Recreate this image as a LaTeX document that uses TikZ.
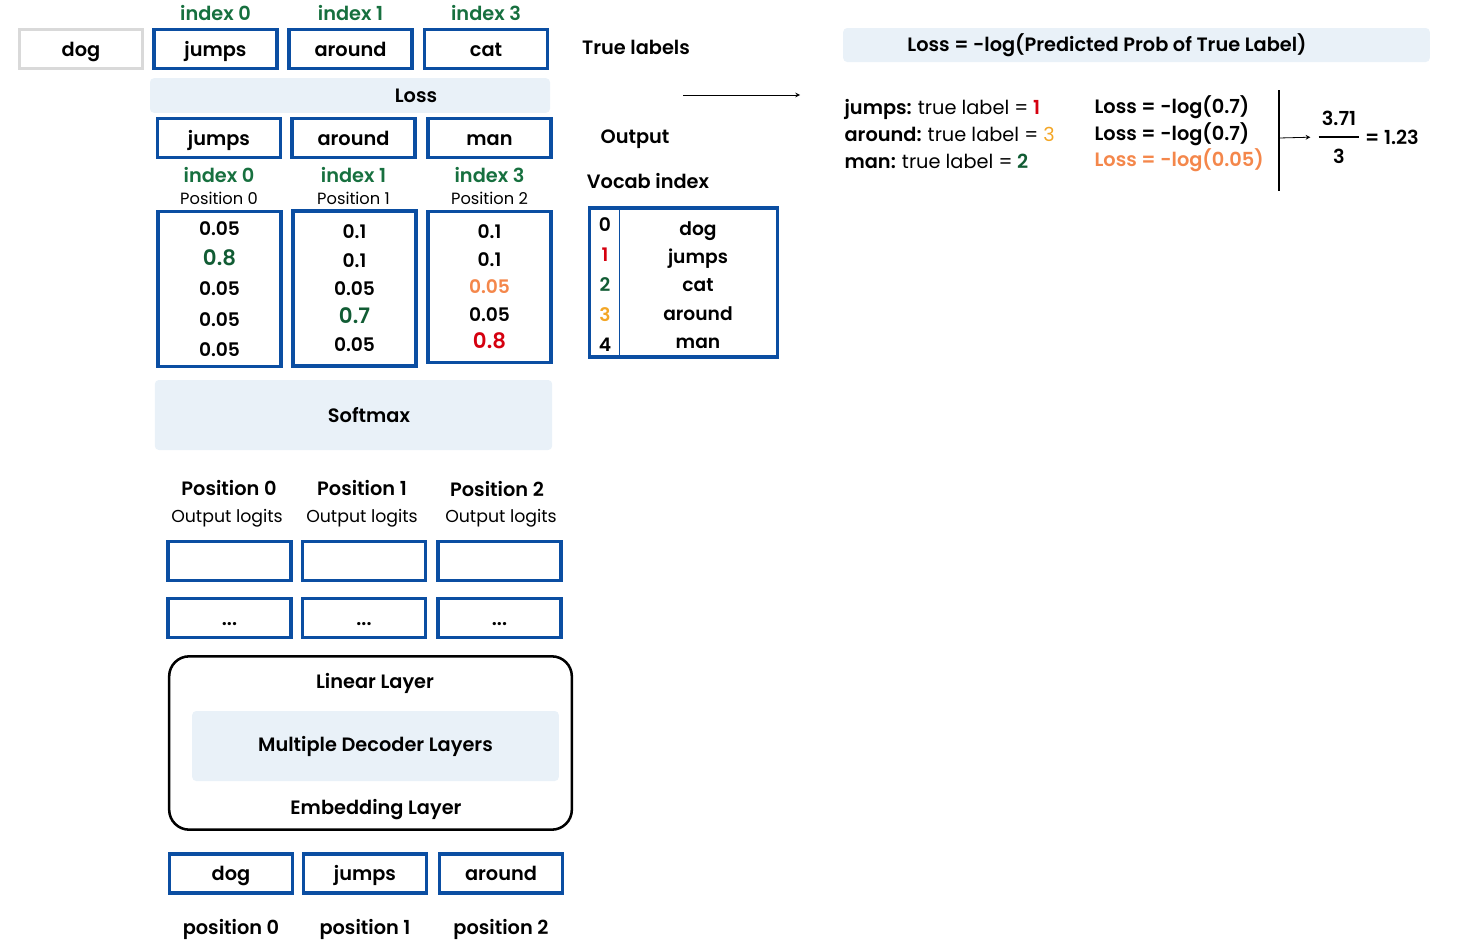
\documentclass[tikz,border=0pt]{standalone}
\usepackage{fontspec}
\IfFontExistsTF{Poppins SemiBold}
  {\setmainfont{Poppins}[BoldFont={Poppins SemiBold}]}
  {\setmainfont{Poppins}}
\usepackage{tikz}
\usetikzlibrary{arrows.meta, positioning}
\tikzset{>={Latex[width=2mm,length=2mm]}}

\definecolor{tokblue}{HTML}{0B4EA2}
\definecolor{tokgrey}{HTML}{D9D9D9}
\definecolor{bandblue}{HTML}{E9F1F8}
\definecolor{idxgreen}{HTML}{17703F}
\definecolor{probgreen}{HTML}{115C34}
\definecolor{tokred}{HTML}{D5000F}
\definecolor{lossorange}{HTML}{F4874B}
\definecolor{labyellow}{HTML}{F3A626}

\newcommand{\tokfont}{\bfseries\fontsize{14.5}{17}\selectfont}
\newcommand{\subfont}{\fontsize{12.2}{14}\selectfont}
\newcommand{\regfont}{\fontsize{13}{16}\selectfont}
\newcommand{\hinum}[2]{{\color{#1}\fontsize{16}{22}\selectfont #2}}

\tikzset{
  tok/.style = {draw=tokblue, line width=2.6pt, minimum width=92pt, minimum height=29pt, inner sep=0pt,
                text height=13pt, text depth=2pt, font=\tokfont},
  greytok/.style = {tok, draw=tokgrey},
  band/.style = {fill=bandblue, rounded corners=3pt, inner sep=0pt, font=\tokfont},
  txt/.style = {inner sep=1pt, font=\tokfont},
  idx/.style = {txt, text=idxgreen},
  sub/.style = {inner sep=1pt, font=\subfont},
  reg/.style = {inner sep=1pt, font=\regfont},
  probbox/.style = {tok, align=center, text height=, text depth=},
  modelbox/.style = {draw, line width=1.9pt, rounded corners=15pt},
}

\begin{document}
\begin{tikzpicture}[x=0.75pt, y=0.75pt]
\useasboundingbox (0,0) rectangle (1461,-946);

% true labels
\node (tdog) [greytok] at (81,-49) {dog};
\node (t1) [tok] at (215.5,-49) {jumps};
\node (t2) [tok] at (350.5,-49) {around};
\node (t3) [tok] at (486,-49) {cat};
\node (ti1) [idx, above=4.5pt of t1] {index 0};
\node (ti2) [idx, above=4.5pt of t2] {index 1};
\node (ti3) [idx, above=4.5pt of t3] {index 3};
\node (truelab) [txt] at (636,-47) {True labels};

\node (lossband) [band, minimum width=300pt, minimum height=26pt] at (350,-95.5) {};
\node (loss) [txt] at (416,-95.5) {Loss};

% predicted tokens
\node (p1) [tok] at (219,-138) {jumps};
\node (p2) [tok] at (353.5,-138) {around};
\node (p3) [tok] at (489.5,-138) {man};
\node (pi1) [idx, below=5pt of p1] {index 0};
\node (pi2) [idx, below=5pt of p2] {index 1};
\node (pi3) [idx, below=5pt of p3] {index 3};
\node (pp1) [sub, below=5pt of pi1] {Position 0};
\node (pp2) [sub, below=5pt of pi2] {Position 1};
\node (pp3) [sub, below=5pt of pi3] {Position 2};

% probabilities
\node (s1) [probbox, minimum height=116pt, font=\bfseries\fontsize{14}{22.7}\selectfont] at (219.5,-289)
  {0.05\\ \hinum{probgreen}{0.8}\\ 0.05\\ 0.05\\ 0.05};
\node (s2) [probbox, minimum height=116pt, font=\bfseries\fontsize{14}{21.2}\selectfont] at (354.5,-288.5)
  {0.1\\ 0.1\\ 0.05\\ \hinum{probgreen}{0.7}\\ 0.05};
\node (s3) [probbox, minimum height=113pt, font=\bfseries\fontsize{14}{20.6}\selectfont] at (489.5,-287)
  {0.1\\ 0.1\\ \textcolor{lossorange}{0.05}\\ 0.05\\ \hinum{tokred}{0.8}};

\node (softmax) [band, minimum width=298pt, minimum height=52.5pt] at (353.5,-415) {};
\node (softtxt) [txt] at (369,-415) {Softmax};

% output logits
\node (lp1) [txt] at (229,-488) {Position 0};
\node (lp2) [txt] at (362,-488) {Position 1};
\node (lp3) [txt] at (497,-489) {Position 2};
\node (lo1) [reg] at (227,-518) {Output logits};
\node (lo2) [reg] at (362,-518) {Output logits};
\node (lo3) [reg] at (501,-518) {Output logits};
\node (l1) [tok] at (229.5,-561) {};
\node (l2) [tok] at (364,-561) {};
\node (l3) [tok] at (499.5,-561) {};
\node (l4) [tok] at (229.5,-618) {...};
\node (l5) [tok] at (364,-618) {...};
\node (l6) [tok] at (499.5,-618) {...};

% model
\node (model) [modelbox, minimum width=302pt, minimum height=130pt] at (370.5,-743) {};
\node (linear) [txt] at (375,-683) {Linear Layer};
\node (decoder) [band, minimum width=275pt, minimum height=52.5pt] at (375.5,-746) {Multiple Decoder Layers};
\node (embed) [txt] at (376,-810) {Embedding Layer};

% inputs
\node (x1) [tok] at (231,-873.5) {dog};
\node (x2) [tok] at (365,-873.5) {jumps};
\node (x3) [tok] at (501,-873.5) {around};
\node (xp1) [txt, below=17pt of x1] {position 0};
\node (xp2) [txt, below=17pt of x2] {position 1};
\node (xp3) [txt, below=17pt of x3] {position 2};

% vocab
\node (outlab) [txt] at (635,-139) {Output};
\node (vocablab) [txt] at (648,-181) {Vocab index};
\coordinate (arr start) at (683,-95);
\coordinate (arr end) at (800,-95);
\draw [-stealth, semithick] (arr start) -- (arr end);

\node (vocab) [tok, minimum width=141pt, minimum height=112pt] at (683.5,-282.5) {};
\draw [tokblue, line width=0.8pt] ([xshift=24pt]vocab.north west) -- ([xshift=24pt]vocab.south west);
\node (vnum) [txt, align=center, font=\bfseries\fontsize{14}{22.5}\selectfont] at (605,-285)
  {0\\ \textcolor{tokred}{1}\\ \textcolor{probgreen}{2}\\ \textcolor{labyellow}{3}\\ 4};
\node (vword) [txt, align=center, font=\bfseries\fontsize{14}{21.2}\selectfont] at (698,-285)
  {dog\\ jumps\\ cat\\ around\\ man};

% loss computation
\node (formula) [band, minimum width=440pt, minimum height=25.5pt] at (1136.5,-45) {};
\node (formtxt) [txt] at (1107,-45) {Loss = -log(Predicted Prob of True Label)};

\node (labels) [txt, anchor=west, align=left, font=\bfseries\fontsize{14.5}{20}\selectfont] at (843,-134)
  {jumps: {\mdseries true label =} \textcolor{tokred}{1}\\
   around: {\mdseries true label = \textcolor{labyellow}{3}}\\
   man: {\mdseries true label =} \textcolor{probgreen}{2}};
\node (losses) [txt, anchor=west, align=left, font=\bfseries\fontsize{14.5}{20}\selectfont] at (1093,-134)
  {Loss = -log(0.7)\\ Loss = -log(0.7)\\ \textcolor{lossorange}{Loss = -log(0.05)}};

\coordinate (brk top) at (1279,-90);
\coordinate (brk bot) at (1279,-191);
\coordinate (brk mid) at (1279,-138);
\draw [line width=1pt] (brk top) -- (brk bot);
\node (frac) [txt, inner sep=0pt] at (1339,-137)
  {\renewcommand{\arraystretch}{1.6}\setlength{\arrayrulewidth}{1pt}%
   \begin{tabular}{@{\,}c@{\,}}3.71\\ \hline 3\end{tabular}};
\draw [-stealth, semithick, shorten >=6pt] (brk mid) -- (frac.west);
\node (result) [txt, right=3pt of frac] {= 1.23};
\end{tikzpicture}
\end{document}
